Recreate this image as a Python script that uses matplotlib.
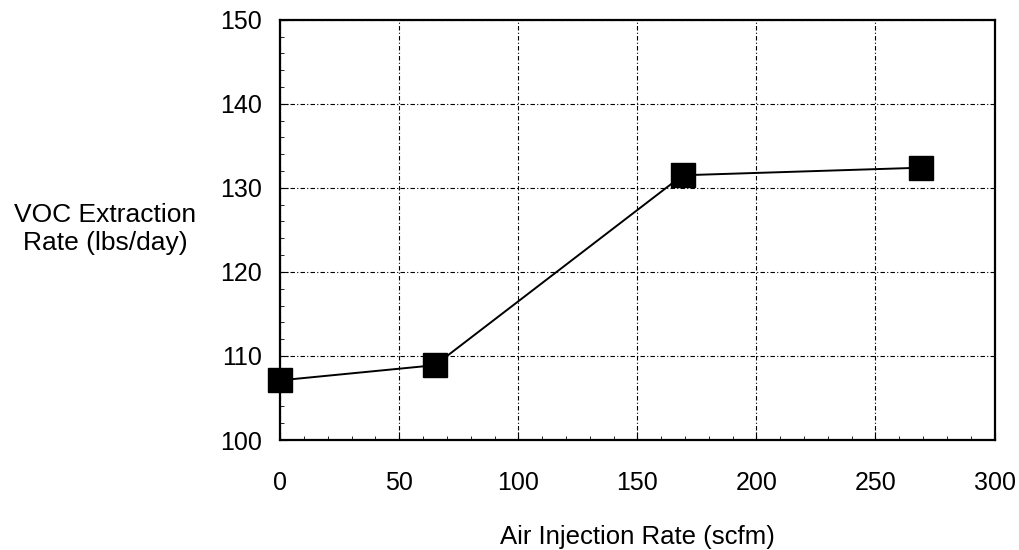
import matplotlib
matplotlib.use('Agg')
import matplotlib.pyplot as plt
from matplotlib.ticker import MultipleLocator

# data
air_rate = [0, 65, 169, 269]
voc_rate = [107.1, 108.9, 131.5, 132.4]

plt.rcParams['font.family'] = ['Liberation Sans', 'DejaVu Sans']

fig = plt.figure(figsize=(10.19, 5.5), dpi=100)
ax = fig.add_axes([0.275, 0.2, 0.701, 0.764])

ax.plot(air_rate, voc_rate, color='black', linewidth=1.4,
        marker='s', markersize=17, markerfacecolor='black', markeredgecolor='black',
        clip_on=False, zorder=3)

ax.set_xlim(0, 300)
ax.set_ylim(100, 150)
ax.xaxis.set_major_locator(MultipleLocator(50))
ax.xaxis.set_minor_locator(MultipleLocator(10))
ax.yaxis.set_major_locator(MultipleLocator(10))
ax.yaxis.set_minor_locator(MultipleLocator(2))

ax.grid(True, which='major', color='black', linestyle=(0, (4, 2, 1, 2)), linewidth=0.8)
ax.tick_params(which='both', direction='in', color='black')
ax.tick_params(which='major', length=6, labelsize=18)
ax.tick_params(which='minor', length=3)
ax.tick_params(axis='x', pad=22)
ax.tick_params(axis='y', pad=13)
for s in ax.spines.values():
    s.set_linewidth(1.6)

ax.set_xlabel('Air Injection Rate (scfm)', fontsize=18.5, labelpad=22)
fig.text(0.103, 0.584, 'VOC Extraction\nRate (lbs/day)', fontsize=19,
         ha='center', va='center', multialignment='center', linespacing=1.2)

fig.savefig('out.png', dpi=100)
